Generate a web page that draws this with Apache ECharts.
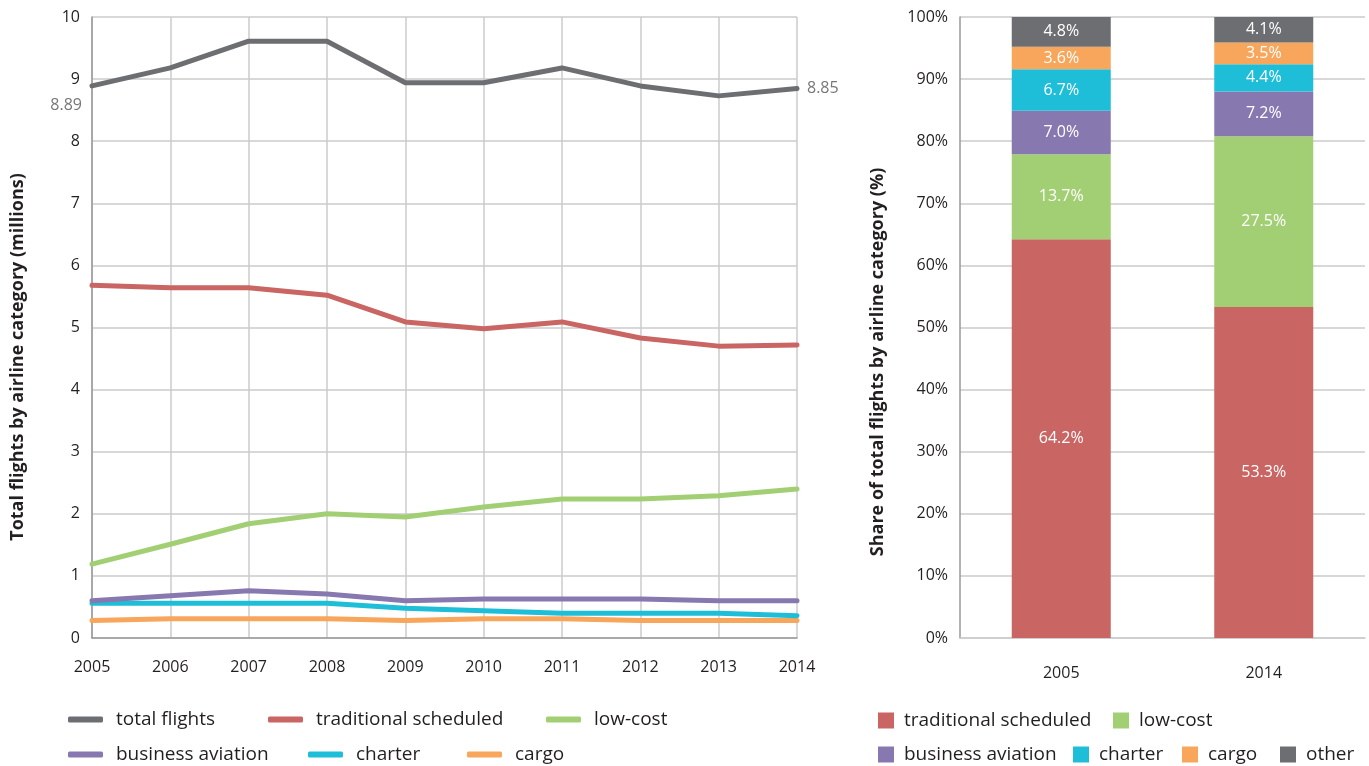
<!DOCTYPE html>
<html>
<head>
<meta charset="utf-8">
<script src="https://cdn.jsdelivr.net/npm/echarts@6/dist/echarts.min.js"></script>
<style>
  html, body { margin: 0; padding: 0; background: #fff; }
  #main { width: 1369px; height: 766px; }
</style>
</head>
<body>
<div id="main"></div>
<script>
// values (millions of flights)
var years = ['2005', '2006', '2007', '2008', '2009', '2010', '2011', '2012', '2013', '2014'];
var totalFlights = [8.89, 9.18, 9.61, 9.61, 8.94, 8.94, 9.18, 8.89, 8.73, 8.85];
var traditional = [5.68, 5.64, 5.64, 5.52, 5.09, 4.98, 5.09, 4.83, 4.70, 4.72];
var lowCost = [1.19, 1.51, 1.84, 2.00, 1.95, 2.11, 2.24, 2.24, 2.29, 2.40];
var business = [0.60, 0.68, 0.76, 0.71, 0.60, 0.63, 0.63, 0.63, 0.60, 0.60];
var charter = [0.56, 0.56, 0.56, 0.56, 0.48, 0.44, 0.40, 0.40, 0.40, 0.36];
var cargo = [0.28, 0.31, 0.31, 0.31, 0.28, 0.31, 0.31, 0.28, 0.28, 0.28];

// share of flights (%) for the stacked bars
var shareYears = ['2005', '2014'];
var shareTraditional = [64.2, 53.3];
var shareLowCost = [13.7, 27.5];
var shareBusiness = [7.0, 7.2];
var shareCharter = [6.7, 4.4];
var shareCargo = [3.6, 3.5];
var shareOther = [4.8, 4.1];

var colors = {
  total: '#6d6e71',
  traditional: '#c96563',
  lowCost: '#a2cf74',
  business: '#8878b0',
  charter: '#1ebed8',
  cargo: '#f7a65b',
  other: '#6d6e71'
};

var font = 'Open Sans';
var textColor = '#231f20';
var gridColor = '#cbcbcb';

var myChart = echarts.init(document.getElementById('main'));

function lineSeries(name, data, color, z) {
  return {
    name: name,
    type: 'line',
    xAxisIndex: 0,
    yAxisIndex: 0,
    data: data,
    showSymbol: false,
    symbol: 'none',
    z: z,
    lineStyle: { color: color, width: 5, cap: 'round', join: 'round' },
    itemStyle: { color: color },
    emphasis: { disabled: true }
  };
}

function barSeries(name, data, color) {
  return {
    name: name,
    type: 'bar',
    stack: 'share',
    xAxisIndex: 1,
    yAxisIndex: 1,
    data: data,
    barWidth: 99,
    itemStyle: { color: color },
    label: {
      show: true,
      position: 'inside',
      color: '#fff',
      fontFamily: font,
      fontSize: 16,
      formatter: function (p) { return p.value.toFixed(1) + '%'; }
    },
    emphasis: { disabled: true }
  };
}

// one legend per item so the positions follow the picture
function legendItem(name, x, y, icon) {
  var isLine = icon === 'line';
  return {
    data: [name],
    left: x,
    top: y,
    padding: 0,
    icon: isLine ? 'roundRect' : 'rect',
    itemWidth: isLine ? 35 : 16,
    itemHeight: isLine ? 6 : 16,
    itemGap: 0,
    selectedMode: false,
    textStyle: { fontFamily: font, fontSize: 19, color: textColor, padding: [0, 0, 0, isLine ? 8 : 5] }
  };
}

var totalData = totalFlights.map(function (v, i) {
  if (i === 0) {
    return {
      value: v,
      label: { show: true, position: 'left', distance: 6, offset: [-4, 20], color: '#777', fontFamily: font, fontSize: 16 }
    };
  }
  return v;
});

var totalSeries = lineSeries('total flights', totalData, colors.total, 10);
totalSeries.symbol = 'circle';
totalSeries.symbolSize = 0;
totalSeries.showSymbol = true;
totalSeries.endLabel = { show: true, distance: 10, color: '#777', fontFamily: font, fontSize: 16, formatter: '{c}' };

var option = {
  animation: false,
  textStyle: { fontFamily: font },
  grid: [
    { left: 92, right: 572, top: 17, bottom: 128 },
    { left: 960, right: 4, top: 17, bottom: 128 }
  ],
  xAxis: [
    {
      gridIndex: 0,
      type: 'category',
      data: years,
      boundaryGap: false,
      axisLine: { lineStyle: { color: '#999', width: 1.5 } },
      axisTick: { show: false },
      axisLabel: { color: textColor, fontSize: 16, fontFamily: font, margin: 21 },
      splitLine: { show: true, lineStyle: { color: gridColor, width: 1.5 } }
    },
    {
      gridIndex: 1,
      type: 'category',
      data: shareYears,
      axisLine: { lineStyle: { color: gridColor, width: 1.5 } },
      axisTick: { show: false },
      axisLabel: { color: textColor, fontSize: 16, fontFamily: font, margin: 27 }
    }
  ],
  yAxis: [
    {
      gridIndex: 0,
      type: 'value',
      min: 0,
      max: 10,
      interval: 1,
      axisLine: { show: true, lineStyle: { color: '#999', width: 1.5 } },
      axisLabel: { color: textColor, fontSize: 16, fontFamily: font, margin: 12 },
      splitLine: { lineStyle: { color: gridColor, width: 1.5 } }
    },
    {
      gridIndex: 1,
      type: 'value',
      min: 0,
      max: 100,
      interval: 10,
      axisLine: { show: true, lineStyle: { color: '#999', width: 1.5 } },
      axisLabel: { color: textColor, fontSize: 16, fontFamily: font, margin: 12, formatter: '{value}%' },
      splitLine: { lineStyle: { color: gridColor, width: 1.5 } }
    }
  ],
  legend: [
    legendItem('total flights', 68, 710, 'line'),
    legendItem('traditional scheduled', 268, 710, 'line'),
    legendItem('low-cost', 546, 710, 'line'),
    legendItem('business aviation', 68, 745, 'line'),
    legendItem('charter', 308, 745, 'line'),
    legendItem('cargo', 467, 745, 'line'),
    legendItem('traditional scheduled', 878, 711, 'rect'),
    legendItem('low-cost', 1113, 711, 'rect'),
    legendItem('business aviation', 878, 745, 'rect'),
    legendItem('charter', 1073, 745, 'rect'),
    legendItem('cargo', 1182, 745, 'rect'),
    legendItem('other', 1280, 745, 'rect')
  ],
  graphic: [
    {
      type: 'text',
      x: 18,
      y: 357,
      rotation: Math.PI / 2,
      style: {
        text: 'Total flights by airline category (millions)',
        font: 'bold 18px "Open Sans"',
        fill: textColor,
        align: 'center',
        verticalAlign: 'middle'
      }
    },
    {
      type: 'text',
      x: 878,
      y: 362,
      rotation: Math.PI / 2,
      style: {
        text: 'Share of total flights by airline category (%)',
        font: 'bold 18px "Open Sans"',
        fill: textColor,
        align: 'center',
        verticalAlign: 'middle'
      }
    }
  ],
  series: [
    lineSeries('cargo', cargo, colors.cargo, 2),
    lineSeries('charter', charter, colors.charter, 3),
    lineSeries('business aviation', business, colors.business, 4),
    lineSeries('low-cost', lowCost, colors.lowCost, 5),
    lineSeries('traditional scheduled', traditional, colors.traditional, 6),
    totalSeries,
    barSeries('traditional scheduled', shareTraditional, colors.traditional),
    barSeries('low-cost', shareLowCost, colors.lowCost),
    barSeries('business aviation', shareBusiness, colors.business),
    barSeries('charter', shareCharter, colors.charter),
    barSeries('cargo', shareCargo, colors.cargo),
    barSeries('other', shareOther, colors.other)
  ]
};

myChart.setOption(option);
</script>
</body>
</html>
